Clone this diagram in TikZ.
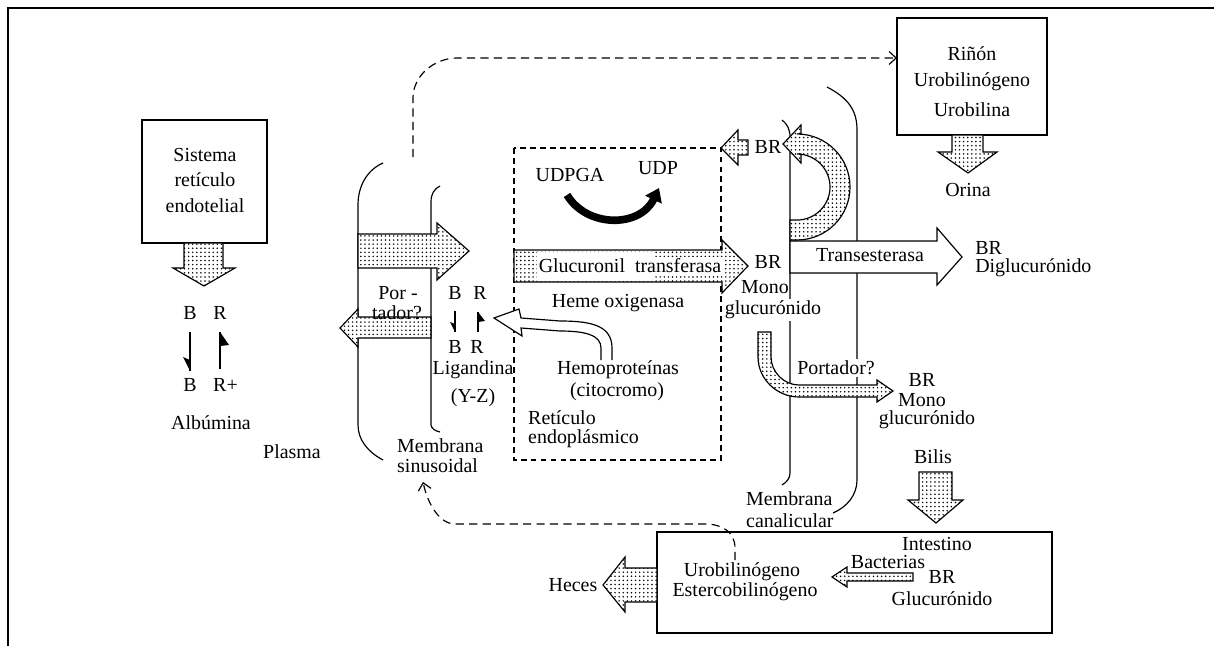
\documentclass[tikz,border=0pt]{standalone}
\usepackage{fontspec}
\setmainfont{Liberation Serif}
\usetikzlibrary{patterns,arrows.meta}
\pgfdeclarepatternformonly{bigdots}{\pgfpoint{-1pt}{-1pt}}{\pgfpoint{1pt}{1pt}}{\pgfpoint{3.5pt}{3.5pt}}{\pgfpathcircle{\pgfpointorigin}{0.72pt}\pgfusepath{fill}}
\begin{document}
\begin{tikzpicture}[x=0.03cm,y=-0.03cm,
  txt/.style={font=\fontsize{17}{20}\selectfont, inner sep=0pt, align=center},
  wtxt/.style={txt, fill=white, inner sep=1.5pt},
  dotarrow/.style={draw, line width=1pt, preaction={fill=white}, pattern=bigdots},
  whitearrow/.style={draw, line width=1pt, fill=white},
  memb/.style={line width=1pt},
  boxline/.style={line width=1.1pt},
  dline/.style={line width=1pt, dash pattern=on 7pt off 4.5pt},
  barb/.style={-{Straight Barb[length=6pt,width=11pt]}},
]
\useasboundingbox (0,0) rectangle (1214,646);
% outer frame
\draw[line width=1.8pt] (7,8) -- (1214,8);
\draw[line width=1.5pt] (8,8) -- (8,646);

% ---------- Sistema reticulo endotelial ----------
\draw[boxline] (142,120) rectangle (267,243);
\node[txt] (sre) at (205,180.5) {Sistema\\[2pt]retículo\\[2pt]endotelial};
\draw[dotarrow] (184,243) -- (223,243) -- (223,268) -- (235,268) -- (204,286) -- (173,268) -- (184,268) -- cycle;
\node[txt] (b1) at (190,313) {B};
\node[txt] (r1) at (220,313) {R};
\node[txt] (b2) at (190,385) {B};
\node[txt,anchor=west] (r2) at (213,385) {R+};
\draw[line width=1pt] (190,332) -- (190,371);
\fill (190,371) -- (183,357) -- (190,360) -- cycle;
\draw[line width=1pt] (220,369) -- (220,332);
\fill (220,332) -- (229,345) -- (220,346) -- cycle;
\node[txt] (alb) at (211,423) {Albúmina};
\node[txt] (plasma) at (292,452) {Plasma};

% ---------- sinusoidal membrane ----------
\draw[memb] (383,163) .. controls (367,170) and (358,186) .. (358,205) -- (358,425) .. controls (358,440) and (368,452) .. (383,460);
\draw[memb] (440,186) .. controls (434,189) and (431,194) .. (431,202) -- (431,425) .. controls (431,428) and (435,431) .. (440,432);
\draw[dotarrow] (358,234) -- (437,234) -- (437,223) -- (469,251) -- (437,280) -- (437,268) -- (358,268) -- cycle;
\draw[dotarrow] (431,317) -- (358,317) -- (358,309) -- (340,328) -- (358,347) -- (358,338) -- (431,338) -- cycle;
\node[txt] (por1) at (398,293) {Por -};
\node[txt] (por2) at (397,313) {tador?};
\node[txt,anchor=west] (msin1) at (397,446) {Membrana};
\node[txt,anchor=west] (msin2) at (397,466) {sinusoidal};

% ---------- Ligandina ----------
\node[txt] (b3) at (455,293) {B};
\node[txt] (r3) at (480,293) {R};
\node[txt] (b4) at (455,347) {B};
\node[txt] (r4) at (477,347) {R};
\draw[line width=0.9pt] (455,311) -- (455,332);
\fill (455,332) -- (450,322) -- (455,324) -- cycle;
\draw[line width=0.9pt] (478,332) -- (478,312);
\fill (478,312) -- (485,321) -- (478,322) -- cycle;
\node[txt] (lig) at (473,370) {Ligandina};
\node[txt] (yz) at (473,398) {(Y-Z)};

% ---------- reticulo endoplasmico (dashed box) ----------
\draw[line width=1pt, dash pattern=on 5pt off 3.5pt] (514,148) rectangle (721,460);
\node[txt] (udpga) at (570,175) {UDPGA};
\node[txt] (udp) at (658,168) {UDP};
\draw[line width=6.5pt, -{Triangle[length=11pt,width=15pt]}] (udpga.south) ++(-3,13) .. controls (587,228) and (640,228) .. (659,188);
\draw[dotarrow] (514,250) -- (722,250) -- (722,240) -- (748,266) -- (722,293) -- (722,282) -- (514,282) -- cycle;
\fill[white] (537,251.5) rectangle (655,280.5);
\node[wtxt] (glt) at (630,266) {Glucuronil\ \ transferasa};
\node[txt] (heme) at (618,303) {Heme oxigenasa};
\draw[whitearrow] (612,360) -- (612,348) .. controls (612,325) and (590,321) .. (560,321) -- (521,318) -- (519,309) -- (494,318) -- (522,336) -- (521,328) -- (560,331) .. controls (585,331) and (601,335) .. (601,348) -- (601,360);
\node[txt] (hemo) at (618,370) {Hemoproteínas};
\node[txt] (cito) at (617,392) {(citocromo)};
\node[txt,anchor=west] (ret1) at (528,418) {Retículo};
\node[txt,anchor=west] (ret2) at (528,439) {endoplásmico};

% ---------- canalicular membrane ----------
\draw[memb] (782,120) .. controls (787,124) and (790,129) .. (790,137) -- (790,473) .. controls (790,478) and (787,482) .. (782,485);
\draw[memb] (827,87) .. controls (848,98) and (857,110) .. (857,130) -- (857,480) .. controls (857,495) and (847,507) .. (833,513);
\node[txt,anchor=west] (mcan1) at (746,499) {Membrana};
\node[txt,anchor=west] (mcan2) at (746,521) {canalicular};

% BR recycled
\draw[dotarrow] (748,140) -- (738,140) -- (738,130) -- (721,148) -- (738,165) -- (738,155) -- (748,155) -- cycle;
\node[txt] (brtop) at (768,147) {BR};
\draw[dotarrow] (790,240) -- (797,240) .. controls (826.3,240) and (850,216.3) .. (850,187) .. controls (850,157.7) and (826.3,134) .. (797,134) -- (801,134) -- (801,125) -- (783,144) -- (801,163) -- (801,154) -- (797,154) .. controls (815.2,154) and (830,168.8) .. (830,187) .. controls (830,205.2) and (815.2,220) .. (797,220) -- (790,220) -- cycle;

% BR mono glucuronido
\node[txt] (br1) at (768,262) {BR};
\node[txt] (mono1) at (765,287) {Mono};
\node[wtxt] (glu1) at (773,310) {glucurónido};

% Transesterasa
\draw[whitearrow] (790,241) -- (937,241) -- (937,228) -- (962,257) -- (937,285) -- (937,273) -- (790,273) -- cycle;
\node[txt] (trans) at (870,255) {Transesterasa};
\node[txt,anchor=west] (br2) at (975,248) {BR};
\node[txt,anchor=west] (diglu) at (975,268) {Diglucurónido};

% Portador curved arrow
\draw[dotarrow] (758,332) -- (758,357) .. controls (758,379) and (777,397) .. (799,397) -- (877,397) -- (877,402) -- (893,391) -- (877,380) -- (877,385) -- (799,385) .. controls (784,385) and (771,372) .. (771,357) -- (771,332) -- cycle;
\node[wtxt] (port) at (836,368) {Portador?};
\node[txt] (br3) at (922,380) {BR};
\node[txt] (mono3) at (922,400) {Mono};
\node[txt] (glu3) at (927,420) {glucurónido};

% Bilis
\node[txt] (bilis) at (933,457) {Bilis};
\draw[dotarrow] (919,472) -- (952,472) -- (952,500) -- (963,500) -- (936,523) -- (908,500) -- (919,500) -- cycle;

% ---------- Intestino ----------
\draw[boxline] (657,532) rectangle (1052,633);
\node[txt] (intes) at (937,544) {Intestino};
\node[txt] (bact) at (888,562) {Bacterias};
\node[txt] (br4) at (942,577) {BR};
\node[txt] (glu4) at (942,599) {Glucurónido};
\draw[dotarrow] (913,573) -- (847,573) -- (847,567) -- (832,577) -- (847,587) -- (847,581) -- (913,581) -- cycle;
\node[txt] (urob) at (742,572) {Urobilinógeno};
\node[txt] (ester) at (745,592) {Estercobilinógeno};
\draw[dotarrow] (657,568) -- (625,568) -- (625,557) -- (603,585) -- (625,612) -- (625,602) -- (657,602) -- cycle;
\node[txt] (heces) at (573,585) {Heces};

% return dashed arrow to sinusoidal membrane
\coordinate (dstart) at (735,560);
\coordinate (dend) at (423,482);
\draw[dline, barb] (dstart) -- (735,548) .. controls (735,532) and (722,524) .. (705,524) -- (455,524) .. controls (440,524) and (428,505) .. (dend);

% ---------- Rinon ----------
\draw[boxline] (897,18) rectangle (1047,135);
\node[txt] (rin) at (972,54) {Riñón};
\node[txt] (urob2) at (972,82) {Urobilinógeno};
\node[txt] (urobi) at (972,110) {Urobilina};
\draw[dotarrow] (952,135) -- (983,135) -- (983,152) -- (997,152) -- (968,173) -- (938,152) -- (952,152) -- cycle;
\node[txt] (orina) at (968,190) {Orina};

% top dashed arrow to Rinon
\coordinate (tstart) at (413,157);
\coordinate (tend) at (897,58);
\draw[dline, barb] (tstart) -- (413,98) .. controls (413,75) and (435,58) .. (457,58) -- (tend);
\end{tikzpicture}
\end{document}
